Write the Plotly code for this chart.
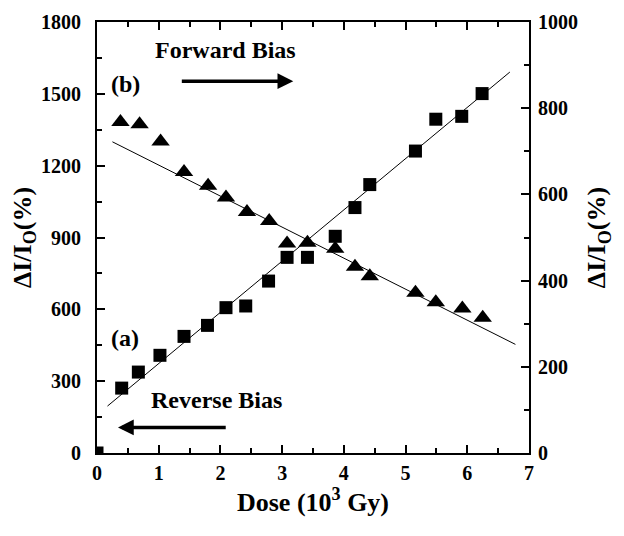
import plotly.graph_objects as go

# Reverse bias (a) - squares, left axis
sq_x = [0.0, 0.40, 0.67, 1.02, 1.41, 1.79, 2.09, 2.41, 2.78, 3.08, 3.41, 3.86, 4.18, 4.42, 5.16, 5.49, 5.91, 6.24]
sq_y = [0, 271, 338, 408, 487, 533, 607, 614, 718, 817, 817, 905, 1025, 1121, 1261, 1394, 1406, 1501]
sq_fit_x = [0.17, 6.69]
sq_fit_y = [196, 1591]

# Forward bias (b) - triangles, right axis
tr_x = [0.38, 0.69, 1.03, 1.41, 1.80, 2.09, 2.43, 2.79, 3.08, 3.41, 3.86, 4.18, 4.42, 5.16, 5.49, 5.92, 6.25]
tr_y = [768, 763, 723, 652, 620, 593, 559, 538, 486, 488, 474, 432, 410, 372, 350, 335, 314]
tr_fit_x = [0.25, 6.78]
tr_fit_y = [722, 252]

x_ticks = [0, 1, 2, 3, 4, 5, 6, 7]
y_ticks = [0, 300, 600, 900, 1200, 1500, 1800]
y2_ticks = [0, 200, 400, 600, 800, 1000]

FONT = "Liberation Serif"

fig = go.Figure()
fig.add_trace(go.Scatter(x=sq_fit_x, y=sq_fit_y, mode="lines",
                         line=dict(color="black", width=1), showlegend=False))
fig.add_trace(go.Scatter(x=sq_x, y=sq_y, mode="markers",
                         marker=dict(symbol="square", size=13, color="black"),
                         showlegend=False, cliponaxis=True))
fig.add_trace(go.Scatter(x=tr_fit_x, y=tr_fit_y, mode="lines", yaxis="y2",
                         line=dict(color="black", width=1), showlegend=False))
fig.add_trace(go.Scatter(x=tr_x, y=tr_y, mode="markers", yaxis="y2",
                         marker=dict(symbol="triangle-up", size=16, color="black"),
                         showlegend=False, cliponaxis=True))

tickfont = dict(family=FONT, size=20, color="black")
titlefont = dict(family=FONT, size=26, color="black")

def b(vals):
    return ["<b>%s</b>" % v for v in vals]

common = dict(showgrid=False, zeroline=False, showline=True, linecolor="black",
              linewidth=2, ticks="inside", ticklen=8, tickwidth=2, tickcolor="black",
              tickfont=tickfont, automargin=False)

fig.update_layout(
    width=616, height=528,
    margin=dict(l=89, r=95, t=14, b=83),
    plot_bgcolor="white", paper_bgcolor="white",
    font=dict(family=FONT, color="black"),
    xaxis=dict(range=[0, 7], tickmode="array", tickvals=x_ticks, ticktext=b(x_ticks),
               mirror="ticks",
               minor=dict(ticks="inside", dtick=0.5, ticklen=5, tickwidth=2, tickcolor="black"),
               ticklabelstandoff=1,
               title=dict(text="<b>Dose (10<sup>3</sup> Gy)</b>", font=titlefont, standoff=3),
               **common),
    yaxis=dict(range=[0, 1800], tickmode="array", tickvals=y_ticks, ticktext=b(y_ticks),
               minor=dict(ticks="inside", dtick=150, ticklen=5, tickwidth=2, tickcolor="black"),
               ticklabelstandoff=10,
               title=dict(text="<b>ΔI/I<sub>O</sub>(%)</b>", font=titlefont, standoff=6),
               **common),
    yaxis2=dict(range=[0, 1000], tickmode="array", tickvals=y2_ticks, ticktext=b(y2_ticks),
                overlaying="y", side="right",
                minor=dict(ticks="inside", dtick=100, ticklen=5, tickwidth=2, tickcolor="black"),
                ticklabelstandoff=3,
                title=dict(text="<b>ΔI/I<sub>O</sub>(%)</b>", font=titlefont, standoff=10),
                **common),
)

ann_font = dict(family=FONT, size=24, color="black")
fig.add_annotation(x=2.09, y=1682, xref="x", yref="y", text="<b>Forward Bias</b>",
                   showarrow=False, font=ann_font)
fig.add_annotation(x=0.46, y=1543, xref="x", yref="y", text="<b>(b)</b>",
                   showarrow=False, font=ann_font)
fig.add_annotation(x=0.46, y=482, xref="x", yref="y", text="<b>(a)</b>",
                   showarrow=False, font=ann_font)
fig.add_annotation(x=1.94, y=220, xref="x", yref="y", text="<b>Reverse Bias</b>",
                   showarrow=False, font=ann_font)
# arrows
fig.add_annotation(x=3.18, y=1553, ax=1.35, ay=1553, xref="x", yref="y",
                   axref="x", ayref="y", text="", showarrow=True,
                   arrowhead=2, arrowsize=0.9, arrowwidth=3.5, arrowcolor="black")
fig.add_annotation(x=0.34, y=107, ax=2.11, ay=107, xref="x", yref="y",
                   axref="x", ayref="y", text="", showarrow=True,
                   arrowhead=2, arrowsize=0.9, arrowwidth=3.5, arrowcolor="black")

fig.write_html("out.html")
